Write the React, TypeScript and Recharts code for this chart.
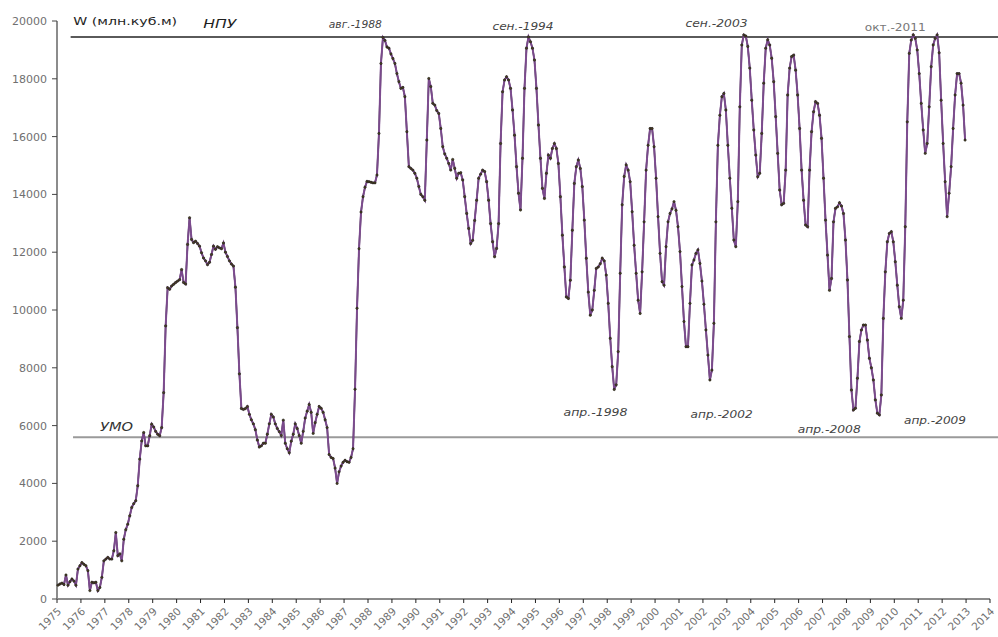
import React from 'react';
import { LineChart, Line, XAxis, YAxis, ReferenceLine, ReferenceDot } from 'recharts';

// monthly reservoir volume, W (млн.куб.м), Jan..Dec of each year
const YEARS = [
  1975, 1976, 1977, 1978, 1979, 1980, 1981, 1982, 1983, 1984, 1985, 1986, 1987,
  1988, 1989, 1990, 1991, 1992, 1993, 1994, 1995, 1996, 1997, 1998, 1999, 2000,
  2001, 2002, 2003, 2004, 2005, 2006, 2007, 2008, 2009, 2010, 2011, 2012,
];

const w1975 = [480, 520, 550, 500, 830, 480, 600, 690, 620, 480, 1035, 1150];
const w1976 = [1260, 1200, 1150, 980, 290, 580, 560, 580, 290, 400, 750, 1320];
const w1977 = [1380, 1440, 1380, 1380, 1670, 2300, 1500, 1560, 1320, 2070, 2400, 2590];
const w1978 = [2880, 3170, 3300, 3400, 3920, 4840, 5470, 5760, 5300, 5300, 5650, 6050];
const w1979 = [5950, 5800, 5700, 5650, 5930, 7140, 9450, 10770, 10720, 10830, 10890, 10950];
const w1980 = [11000, 11050, 11400, 10950, 10900, 12270, 13190, 12440, 12330, 12380, 12300, 12210];
const w1981 = [11980, 11800, 11700, 11570, 11650, 11920, 12210, 12100, 12190, 12150, 12120, 12320];
const w1982 = [12000, 11850, 11700, 11590, 11520, 10790, 9390, 7790, 6590, 6560, 6590, 6660];
const w1983 = [6390, 6200, 6060, 5860, 5500, 5260, 5300, 5390, 5390, 5700, 6060, 6390];
const w1984 = [6300, 6060, 5900, 5790, 5660, 6190, 5390, 5200, 5060, 5460, 5700, 6060];
const w1985 = [5900, 5660, 5390, 5800, 6260, 6500, 6730, 6460, 5730, 6100, 6390, 6660];
const w1986 = [6600, 6460, 6200, 5930, 5000, 4900, 4860, 4530, 4000, 4400, 4600, 4730];
const w1987 = [4800, 4750, 4730, 4900, 5200, 7260, 10060, 12120, 13390, 13920, 14250, 14450];
const w1988 = [14440, 14420, 14400, 14400, 14670, 16110, 18530, 19430, 19330, 19100, 19060, 18860];
const w1989 = [18700, 18530, 18180, 17900, 17670, 17700, 17380, 16170, 14960, 14900, 14840, 14730];
const w1990 = [14560, 14270, 14000, 13920, 13800, 15880, 18010, 17730, 17150, 17090, 16900, 16800];
const w1991 = [16280, 15650, 15400, 15250, 15070, 14840, 15210, 14900, 14560, 14730, 14750, 14500];
const w1992 = [13920, 13340, 12820, 12300, 12410, 13100, 13800, 14560, 14700, 14840, 14790, 14440];
const w1993 = [13800, 12990, 12360, 11840, 12130, 12990, 15760, 17550, 17960, 18070, 17960, 17670];
const w1994 = [16920, 16050, 14960, 14040, 13460, 15250, 17670, 19060, 19450, 19280, 19060, 18650];
const w1995 = [17670, 16400, 15250, 14210, 13860, 14730, 15360, 15250, 15590, 15760, 15590, 15070];
const w1996 = [13920, 12590, 11490, 10450, 10400, 11030, 12760, 14380, 14960, 15190, 14900, 14270];
const w1997 = [13110, 11790, 10620, 9820, 10000, 10680, 11440, 11490, 11600, 11790, 11700, 11210];
const w1998 = [10230, 9020, 8040, 7250, 7410, 8560, 11270, 13640, 14620, 15020, 14840, 14440];
const w1999 = [13400, 12240, 11270, 10340, 9880, 11320, 13050, 14840, 15700, 16280, 16280, 15650];
const w2000 = [14560, 13230, 11960, 10980, 10860, 12190, 13050, 13340, 13500, 13750, 13450, 12880];
const w2001 = [12020, 10810, 9600, 8730, 8730, 10230, 11560, 11730, 11960, 12080, 11610, 11000];
const w2002 = [10200, 9310, 8440, 7580, 7920, 9540, 13050, 15700, 16740, 17380, 17490, 16920];
const w2003 = [15700, 14560, 13520, 12420, 12190, 13750, 17030, 19170, 19520, 19480, 19120, 18370];
const w2004 = [17260, 16230, 15360, 14610, 14730, 16110, 17850, 19060, 19350, 19170, 18710, 17900];
const w2005 = [16690, 15420, 14150, 13640, 13690, 14840, 17440, 18370, 18770, 18820, 18300, 17440];
const w2006 = [16280, 14840, 13800, 12940, 12880, 14840, 16170, 16860, 17210, 17150, 16740, 15940];
const w2007 = [14560, 13110, 11900, 10680, 11090, 13050, 13520, 13570, 13710, 13600, 13340, 12420];
const w2008 = [11040, 9080, 7230, 6540, 6600, 7640, 8910, 9310, 9480, 9480, 8960, 8330];
const w2009 = [8000, 7580, 6890, 6430, 6370, 7060, 9710, 11320, 12360, 12650, 12710, 12360];
const w2010 = [11670, 10860, 10110, 9710, 10340, 12880, 16510, 18880, 19340, 19520, 19400, 19000];
const w2011 = [18180, 17150, 16230, 15420, 15760, 17030, 18420, 19170, 19400, 19520, 18900, 17260];
const w2012 = [15760, 14440, 13230, 14040, 14960, 16280, 17440, 18180, 18180, 17850, 17090, 15880];

const VOLUMES = [
  w1975, w1976, w1977, w1978, w1979, w1980, w1981, w1982, w1983, w1984, w1985, w1986, w1987,
  w1988, w1989, w1990, w1991, w1992, w1993, w1994, w1995, w1996, w1997, w1998, w1999, w2000,
  w2001, w2002, w2003, w2004, w2005, w2006, w2007, w2008, w2009, w2010, w2011, w2012,
];

const X_TICKS = [
  1975, 1976, 1977, 1978, 1979, 1980, 1981, 1982, 1983, 1984, 1985, 1986, 1987, 1988,
  1989, 1990, 1991, 1992, 1993, 1994, 1995, 1996, 1997, 1998, 1999, 2000, 2001, 2002,
  2003, 2004, 2005, 2006, 2007, 2008, 2009, 2010, 2011, 2012, 2013, 2014,
];
const Y_TICKS = [0, 2000, 4000, 6000, 8000, 10000, 12000, 14000, 16000, 18000, 20000];

const NPU = 19450; // НПУ
const UMO = 5600; // УМО

// t = year + month midpoint
const data = YEARS.flatMap((yr, i) =>
  VOLUMES[i].map((w, m) => ({ t: yr + (m + 0.5) / 12, w }))
);

const FONT = 'DejaVu Sans, Verdana, sans-serif';

const ANNOTATIONS = [
  { text: 'W (млн.куб.м)', t: 1977.85, w: 19860, width: 104, size: 11, italic: false, color: '#1e1e1e' },
  { text: 'НПУ', t: 1981.8, w: 19757, width: 33, size: 13, italic: true, color: '#1e1e1e' },
  { text: 'авг.-1988', t: 1987.47, w: 19757, width: 53, size: 11, italic: true, color: '#444' },
  { text: 'сен.-1994', t: 1994.48, w: 19690, width: 61, size: 11, italic: true, color: '#444' },
  { text: 'сен.-2003', t: 2002.57, w: 19790, width: 62, size: 11, italic: true, color: '#444' },
  { text: 'окт.-2011', t: 2010.04, w: 19650, width: 61, size: 11, italic: false, color: '#777' },
  { text: 'УМО', t: 1977.49, w: 5813, width: 33, size: 13, italic: true, color: '#333' },
  { text: 'апр.-1998', t: 1997.51, w: 6332, width: 64, size: 11, italic: true, color: '#444' },
  { text: 'апр.-2002', t: 2002.78, w: 6263, width: 62, size: 11, italic: true, color: '#444' },
  { text: 'апр.-2008', t: 2007.28, w: 5744, width: 63, size: 11, italic: true, color: '#444' },
  { text: 'апр.-2009', t: 2011.7, w: 6055, width: 62, size: 11, italic: true, color: '#444' },
];

const AnnotationLabel = (props: any) => {
  const { viewBox, text, width, size, italic, color } = props;
  if (!viewBox) return null;
  const cx = viewBox.x + (viewBox.width || 0) / 2;
  const cy = viewBox.y + (viewBox.height || 0) / 2;
  return (
    <text
      x={cx}
      y={cy}
      textAnchor="middle"
      textLength={width}
      lengthAdjust="spacingAndGlyphs"
      fontSize={size}
      fontStyle={italic ? 'italic' : 'normal'}
      fontFamily={FONT}
      fill={color}
    >
      {text}
    </text>
  );
};

const XTick = (props: any) => {
  const { x, y, payload } = props;
  const ax = x + 5;
  const ay = y + 7;
  return (
    <text
      x={ax}
      y={ay}
      transform={`rotate(-45 ${ax} ${ay})`}
      textAnchor="end"
      fill="#707070"
      fontSize={10.5}
      fontFamily={FONT}
    >
      {payload.value}
    </text>
  );
};

export default function App() {
  return (
    <div style={{ position: 'absolute', left: 0, top: 0 }}>
      <LineChart
        width={998}
        height={637}
        data={data}
        margin={{ top: 21, right: 8, bottom: 0, left: 0 }}
      >
        <XAxis
          dataKey="t"
          type="number"
          domain={[1975, 2014]}
          ticks={X_TICKS}
          interval={0}
          tick={<XTick />}
          tickSize={4}
          tickLine={{ stroke: '#222' }}
          axisLine={{ stroke: '#8c8c8c', strokeWidth: 2 }}
          height={38}
        />
        <YAxis
          type="number"
          domain={[0, 20000]}
          ticks={Y_TICKS}
          interval={0}
          width={57}
          tickSize={5}
          tickMargin={5}
          tickLine={{ stroke: '#444' }}
          axisLine={{ stroke: '#8c8c8c', strokeWidth: 2 }}
          tick={{ fill: '#707070', fontSize: 11, fontFamily: FONT }}
        />
        <ReferenceLine
          segment={[{ x: 1975.57, y: NPU }, { x: 2014.37, y: NPU }]}
          stroke="#5a5a5a"
          strokeWidth={2}
          ifOverflow="visible"
        />
        <ReferenceLine
          segment={[{ x: 1975.67, y: UMO }, { x: 2014.37, y: UMO }]}
          stroke="#9a9a9a"
          strokeWidth={2}
          ifOverflow="visible"
        />
        <Line
          dataKey="w"
          type="linear"
          stroke="#111"
          strokeWidth={1.6}
          dot={false}
          isAnimationActive={false}
        />
        <Line
          dataKey="w"
          type="linear"
          stroke="#86509a"
          strokeWidth={2}
          strokeOpacity={0.9}
          dot={false}
          isAnimationActive={false}
        />
        <Line
          dataKey="w"
          type="linear"
          stroke="none"
          dot={{ r: 1.2, fill: '#4a4020', stroke: '#1a1a1a', strokeWidth: 0.5 }}
          isAnimationActive={false}
        />
        {ANNOTATIONS.map((a) => (
          <ReferenceDot
            key={a.text}
            x={a.t}
            y={a.w}
            r={0}
            fill="none"
            stroke="none"
            label={
              <AnnotationLabel
                text={a.text}
                width={a.width}
                size={a.size}
                italic={a.italic}
                color={a.color}
              />
            }
          />
        ))}
      </LineChart>
    </div>
  );
}
